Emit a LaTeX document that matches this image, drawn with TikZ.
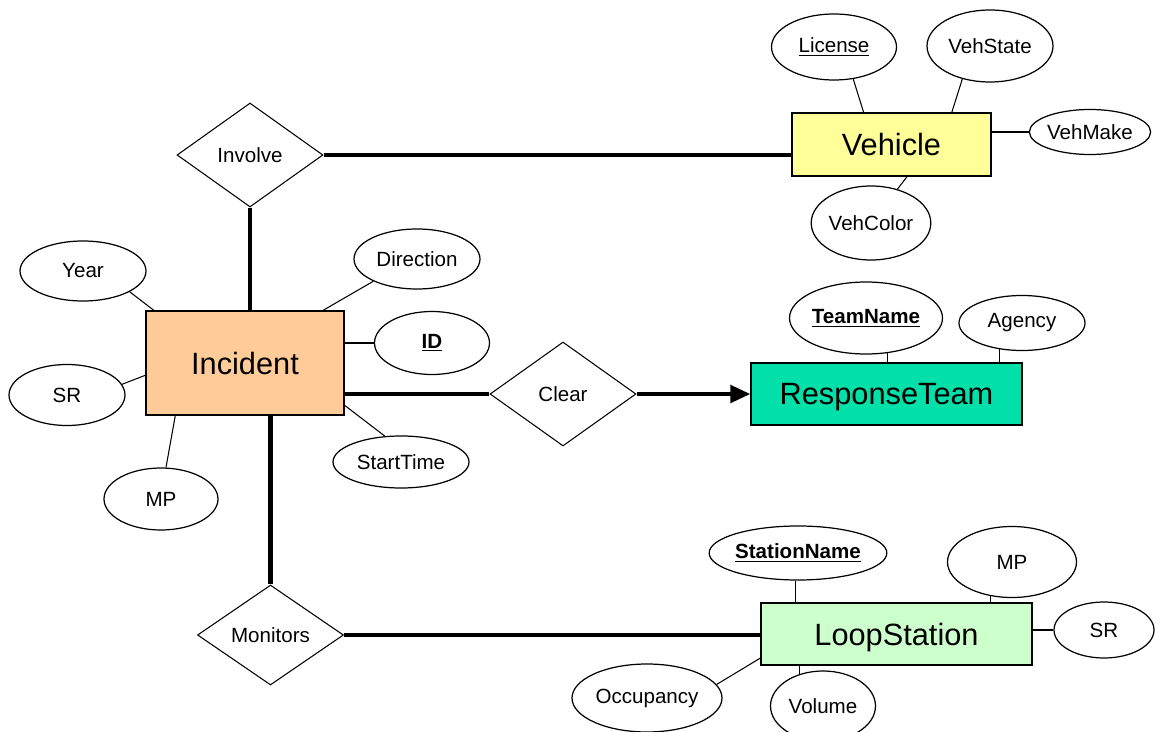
\documentclass[tikz,border=0pt]{standalone}
\usepackage{fontspec}
\setmainfont{Liberation Sans}
\usepackage{tikz}
\usetikzlibrary{shapes,shapes.geometric,calc,arrows.meta}
\definecolor{incfill}{RGB}{255,204,153}
\definecolor{vehfill}{RGB}{255,255,153}
\definecolor{teamfill}{RGB}{0,224,168}
\definecolor{loopfill}{RGB}{204,255,204}
\tikzset{
    entity/.style = {draw, rectangle, line width=0.6pt, inner sep=0pt,
        text depth=0pt, font=\fontsize{17.5}{20}\selectfont, align=center},
    attrib/.style = {draw, ellipse, line width=0.7pt, inner sep=0pt,
        font=\fontsize{11.7}{14}\selectfont},
    relation/.style = {draw, diamond, line width=0.6pt, inner sep=0pt,
        minimum width=2.92cm, minimum height=2.08cm,
        font=\fontsize{11.7}{14}\selectfont},
    link/.style = {draw, line width=2.7pt},
    attlink/.style = {draw, line width=0.6pt}
}
\newcommand{\keyattr}[1]{\textbf{\underline{#1}}}

\begin{document}
\begin{tikzpicture}
    \useasboundingbox (0,0) rectangle (23.12,-14.64);
    % entities
    \node [entity, fill=incfill, minimum width=3.96cm, minimum height=2.08cm] (inc) at (4.90,-7.26) {Incident};
    \node [entity, fill=vehfill, minimum width=3.98cm, minimum height=1.26cm] (veh) at (17.83,-2.89) {Vehicle};
    \node [entity, fill=teamfill, minimum width=5.42cm, minimum height=1.24cm] (team) at (17.73,-7.88) {ResponseTeam};
    \node [entity, fill=loopfill, minimum width=5.42cm, minimum height=1.24cm] (loop) at (17.93,-12.68) {LoopStation};
    % relationships
    \node [relation] (involve) at (5.00,-3.10) {Involve};
    \node [relation] (clear) at (11.26,-7.88) {Clear};
    \node [relation, minimum height=2.0cm] (monitors) at (5.41,-12.70) {Monitors};
    % attributes of Vehicle
    \node [attrib, minimum width=2.5cm, minimum height=1.32cm] (license) at ($(veh)+(-1.15,1.95)$) {\underline{License}};
    \node [attrib, minimum width=2.52cm, minimum height=1.44cm] (vehstate) at ($(veh)+(1.97,1.97)$) {VehState};
    \node [attrib, minimum width=2.32cm, minimum height=0.9cm] (vehmake) at ($(veh)+(3.97,0.25)$) {VehMake};
    \node [attrib, minimum width=2.28cm, minimum height=1.48cm] (vehcolor) at ($(veh)+(-0.41,-1.57)$) {VehColor};
    % attributes of Incident
    \node [attrib, minimum width=2.52cm, minimum height=1.2cm] (year) at ($(inc)+(-3.24,1.84)$) {Year};
    \node [attrib, minimum width=2.52cm, minimum height=1.2cm] (direction) at ($(inc)+(3.44,2.08)$) {Direction};
    \node [attrib, minimum width=2.3cm, minimum height=1.26cm] (id) at ($(inc)+(3.74,0.40)$) {\keyattr{ID}};
    \node [attrib, minimum width=2.32cm, minimum height=1.22cm] (incsr) at ($(inc)+(-3.56,-0.64)$) {SR};
    \node [attrib, minimum width=2.28cm, minimum height=1.24cm] (incmp) at ($(inc)+(-1.68,-2.72)$) {MP};
    \node [attrib, minimum width=2.72cm, minimum height=1.04cm] (starttime) at ($(inc)+(3.12,-1.98)$) {StartTime};
    % attributes of ResponseTeam
    \node [attrib, minimum width=2.54cm, minimum height=1.44cm] (teamname) at ($(team)+(-0.41,1.52)$) {\keyattr{TeamName}};
    \node [attrib, minimum width=2.52cm, minimum height=1.1cm] (agency) at ($(team)+(2.71,1.42)$) {Agency};
    % attributes of LoopStation
    \node [attrib, minimum width=3.12cm, minimum height=1.08cm] (stationname) at ($(loop)+(-1.97,1.62)$) {\keyattr{StationName}};
    \node [attrib, minimum width=2.58cm, minimum height=1.42cm] (loopmp) at ($(loop)+(2.31,1.44)$) {MP};
    \node [attrib, minimum width=2.0cm, minimum height=1.12cm] (loopsr) at ($(loop)+(4.15,0.08)$) {SR};
    \node [attrib, minimum width=3.0cm, minimum height=1.36cm] (occupancy) at ($(loop)+(-4.99,-1.28)$) {Occupancy};
    \node [attrib, minimum width=2.1cm, minimum height=1.4cm] (volume) at ($(loop)+(-1.47,-1.44)$) {Volume};
    % relationship links
    \draw [link] (involve.east) -- (involve.east -| veh.west);
    \draw [link] (involve.south) -- (involve.south |- inc.north);
    \draw [link] (clear.west -| inc.east) -- (clear.west);
    \draw [link, -{Triangle[length=0.4cm, width=0.34cm]}] (clear.east) -- (team.west);
    \draw [link] (monitors.north |- inc.south) -- (monitors.north);
    \draw [link] (monitors.east) -- (monitors.east -| loop.west);
    % attribute links
    \foreach \a/\b in {license.-59/veh.131, vehstate.230/veh.28, vehcolor.52/veh.-64,
        year.-24/inc.150, direction.207/inc.34, incsr.11/inc.187, incmp.81/inc.217,
        starttime.122/inc.-23, occupancy.11/loop.190}{
        \draw [attlink] (\a) -- (\b);
    }
    \draw [attlink] (vehmake.west) -- (vehmake.west -| veh.east);
    \draw [attlink] (id.west) -- (id.west -| inc.east);
    \draw [attlink] (teamname.-58) -- (teamname.-58 |- team.north);
    \draw [attlink] (agency.230) -- (agency.230 |- team.north);
    \draw [attlink] (stationname.-95) -- (stationname.-95 |- loop.north);
    \draw [attlink] (loopmp.238) -- (loopmp.238 |- loop.north);
    \draw [attlink] (loopsr.west) -- (loopsr.west -| loop.east);
    \draw [attlink] (volume.126) -- (volume.126 |- loop.south);
\end{tikzpicture}
\end{document}
